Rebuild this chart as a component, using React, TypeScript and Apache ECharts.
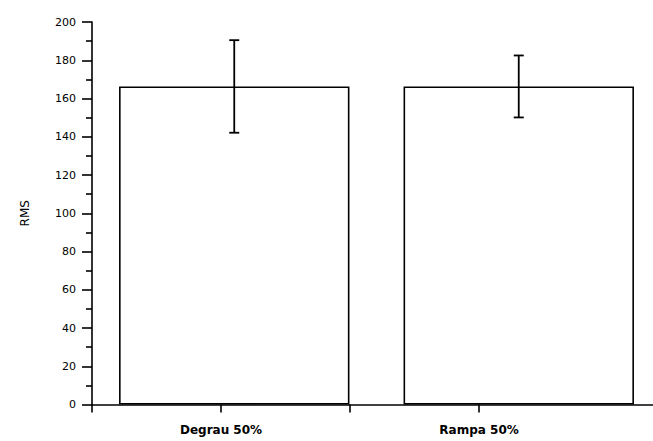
import React, { useEffect, useRef } from "react";
import * as echarts from "echarts";

// Mean RMS per condition, with the standard deviation drawn as error bars
const categories = ["Degrau 50%", "Rampa 50%"];
const meanValues = [166.3, 166.3];
const errorValues = [24.2, 16.2];

// Positions of the bottom axis ticks (value scale) and their labels
const xTickValues = [0, 1, 2, 3];
const xLabelValues = [1, 3];
const xTickLabels = ["Degrau 50%", "Rampa 50%"];

const yTicks = [0, 20, 40, 60, 80, 100, 120, 140, 160, 180, 200];

export default function App() {
  const ref = useRef<HTMLDivElement>(null);

  useEffect(() => {
    if (!ref.current) return;
    const chart = echarts.init(ref.current, null, { renderer: "svg" });
    const font = "'DejaVu Sans', 'Liberation Sans', Arial, sans-serif";

    const errorData = categories.map((_, i) => [
      i,
      meanValues[i] - errorValues[i],
      meanValues[i] + errorValues[i],
    ]);

    chart.setOption({
      animation: false,
      backgroundColor: "#ffffff",
      grid: { left: 92, top: 22, width: 569, bottom: 36.5, containLabel: false },
      xAxis: [
        {
          type: "category",
          data: categories,
          show: false,
        },
        {
          type: "value",
          min: 0,
          max: 4.41,
          interval: 1,
          position: "bottom",
          splitLine: { show: false },
          axisLine: { show: true, lineStyle: { color: "#000", width: 1.6 } },
          axisTick: {
            show: true,
            length: 8,
            customValues: xTickValues,
            lineStyle: { color: "#000", width: 1.6 },
          },
          axisLabel: {
            show: true,
            customValues: xLabelValues,
            margin: 19,
            color: "#000",
            fontFamily: font,
            fontWeight: "bold",
            fontSize: 12,
            formatter: (v: number) => {
              const k = xLabelValues.indexOf(v);
              return k >= 0 ? xTickLabels[k] : "";
            },
          },
        },
      ],
      yAxis: {
        type: "value",
        min: yTicks[0],
        max: yTicks[yTicks.length - 1],
        interval: 20,
        name: "RMS",
        nameLocation: "middle",
        nameGap: 61,
        nameTextStyle: { color: "#000", fontFamily: font, fontSize: 12 },
        splitLine: { show: false },
        axisLine: { show: true, lineStyle: { color: "#000", width: 1.6 } },
        axisTick: { show: true, length: 10, lineStyle: { color: "#000", width: 1.6 } },
        minorTick: { show: true, splitNumber: 2, length: 6, lineStyle: { color: "#000", width: 1.6 } },
        axisLabel: { color: "#000", fontFamily: font, fontSize: 11, margin: 16 },
      },
      series: [
        {
          type: "bar",
          xAxisIndex: 0,
          data: meanValues,
          barWidth: "81%",
          itemStyle: { color: "#ffffff", borderColor: "#000", borderWidth: 1.6 },
        },
        {
          type: "custom",
          xAxisIndex: 0,
          data: errorData,
          z: 5,
          renderItem: (params: any, api: any) => {
            const x = api.value(0);
            const lo = api.coord([x, api.value(1)]);
            const hi = api.coord([x, api.value(2)]);
            const cap = 5;
            const style = { stroke: "#000", lineWidth: 1.8 };
            return {
              type: "group",
              children: [
                { type: "line", shape: { x1: hi[0], y1: hi[1], x2: lo[0], y2: lo[1] }, style },
                { type: "line", shape: { x1: hi[0] - cap, y1: hi[1], x2: hi[0] + cap, y2: hi[1] }, style },
                { type: "line", shape: { x1: lo[0] - cap, y1: lo[1], x2: lo[0] + cap, y2: lo[1] }, style },
              ],
            };
          },
        },
      ],
    });

    return () => chart.dispose();
  }, []);

  // The plot runs slightly past the right edge of the frame, so the
  // chart canvas is wider than the visible window and clipped.
  return (
    <div
      style={{ position: "fixed", left: 0, top: 0, width: 653, height: 441, overflow: "hidden", background: "#fff" }}
    >
      <div ref={ref} style={{ width: 670, height: 441 }} />
    </div>
  );
}
